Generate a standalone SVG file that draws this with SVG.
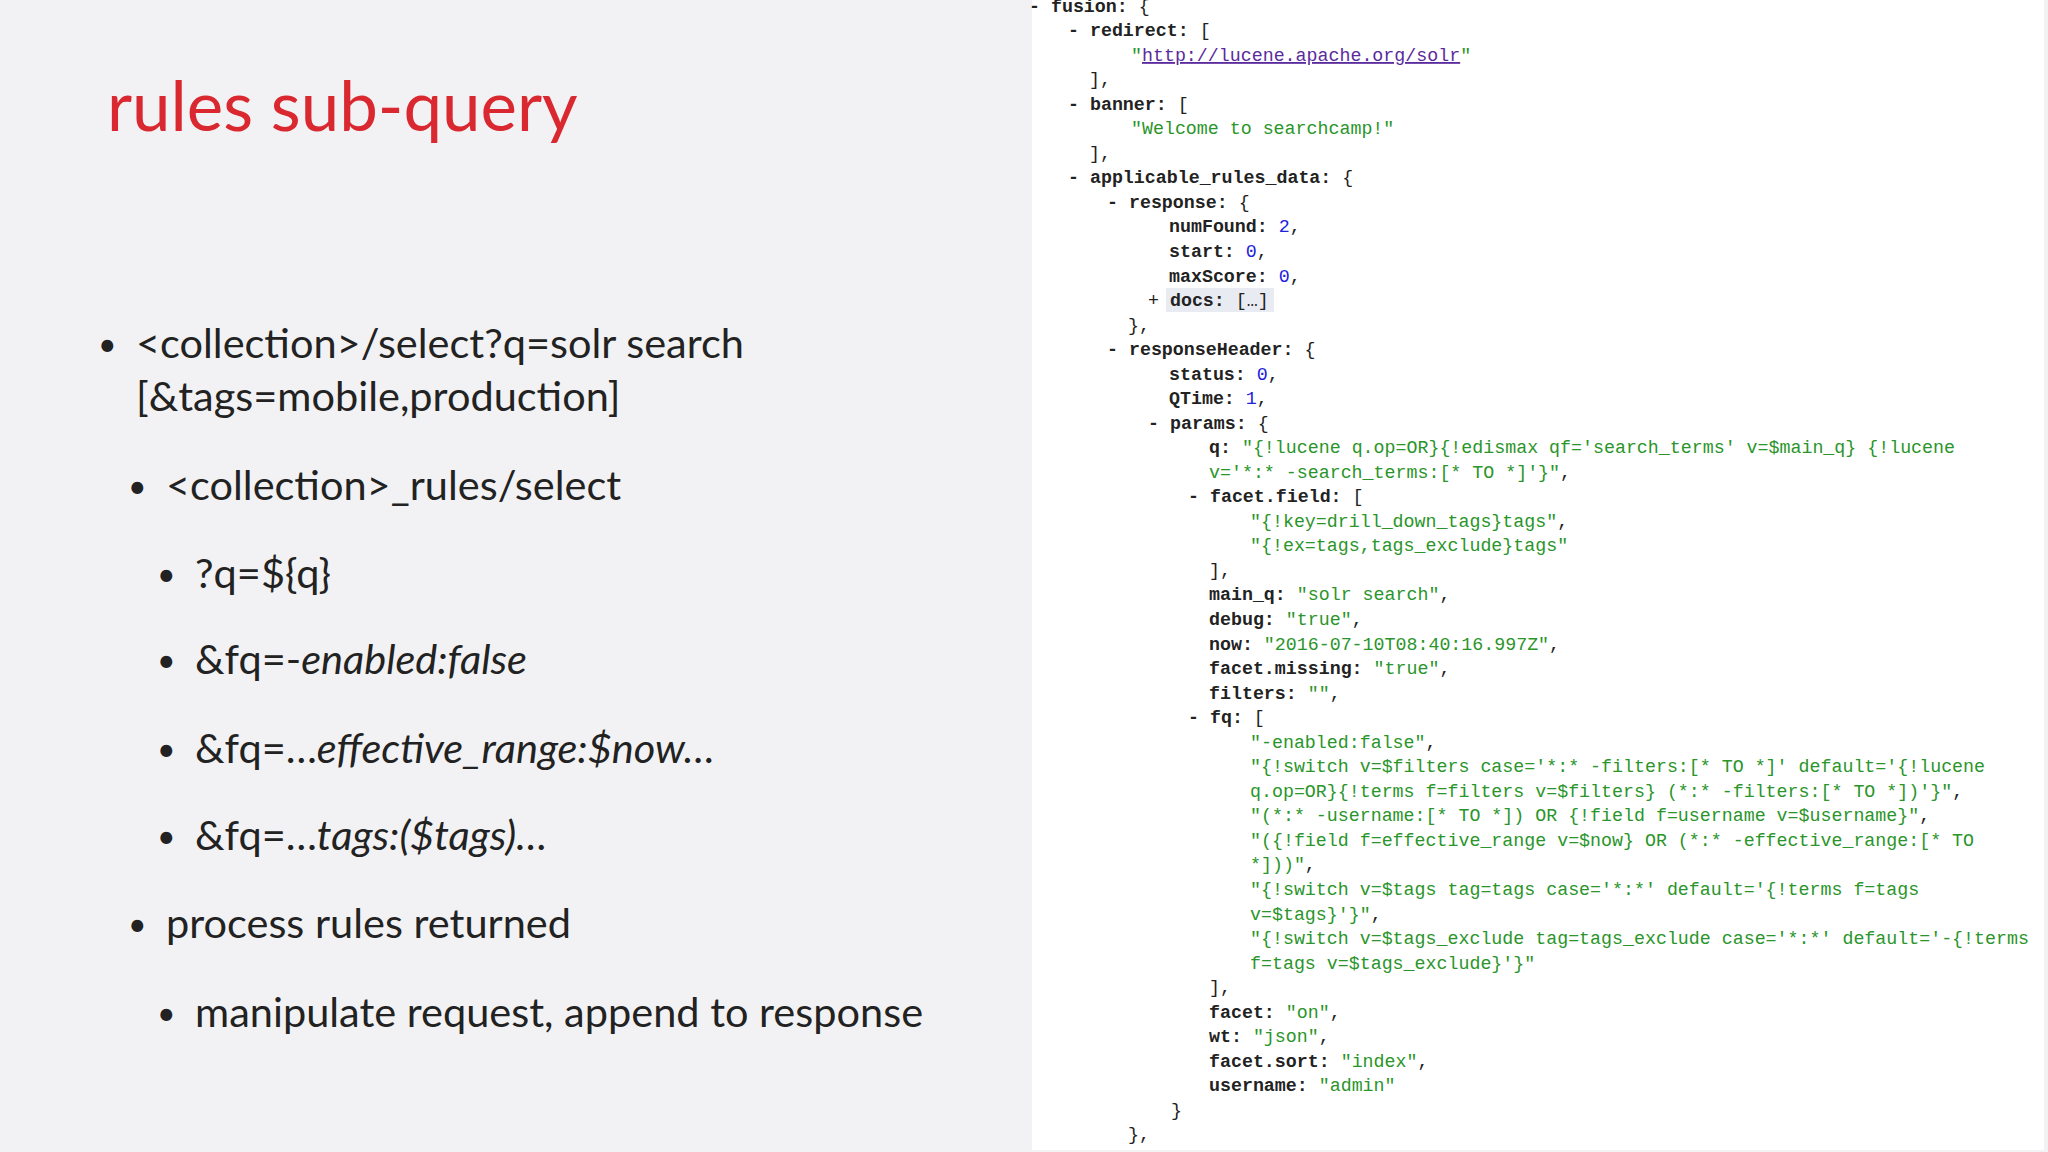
<svg xmlns="http://www.w3.org/2000/svg" width="2048" height="1152" viewBox="0 0 2048 1152">
<style>
.b{font-family:Lato,"Open Sans",sans-serif;font-size:41.5px;fill:#222}
.d{font-family:Lato,"Open Sans",sans-serif;font-size:32px;fill:#222}
.c{font-family:"Liberation Mono",monospace;font-size:18.3px;fill:#222;font-weight:bold}
.s{fill:#2a952a;font-weight:normal}
.n{fill:#2222dd;font-weight:normal}
.l{fill:#5b2a9c;font-weight:normal;text-decoration:underline}
.p{font-weight:normal}
</style>
<rect width="2048" height="1152" fill="#f2f2f4"/>
<g id="title"><text x="107" y="131" font-family="Lato,'Open Sans',sans-serif" font-size="69" fill="#d9282f">rules sub-query</text></g>
<g id="bullets">
<text class="d" x="98" y="356">•</text><text class="b" x="136" y="358">&lt;collection&gt;/select?q=solr search</text>
<text class="b" x="136" y="411">[&amp;tags=mobile,production]</text>
<text class="d" x="128" y="498">•</text><text class="b" x="166" y="500">&lt;collection&gt;_rules/select</text>
<text class="d" x="157" y="586">•</text><text class="b" x="195" y="588">?q=${q}</text>
<text class="d" x="157" y="672">•</text><text class="b" x="195" y="674">&amp;fq=-<tspan font-style="italic">enabled:false</tspan></text>
<text class="d" x="157" y="761">•</text><text class="b" x="195" y="763">&amp;fq=…<tspan font-style="italic">effective_range:$now…</tspan></text>
<text class="d" x="157" y="848">•</text><text class="b" x="195" y="850">&amp;fq=…<tspan font-style="italic">tags:($tags)…</tspan></text>
<text class="d" x="128" y="936">•</text><text class="b" x="166" y="938">process rules returned</text>
<text class="d" x="157" y="1025">•</text><text class="b" x="195" y="1027">manipulate request, append to response</text>
</g>
<g id="json">
<rect x="1032" y="0" width="1012" height="1150" fill="#ffffff"/>
<rect x="1166" y="288" width="108" height="24" fill="#e8ebf2"/>
<text class="c" x="1029" y="12">- fusion: <tspan class="p">{</tspan></text>
<text class="c" x="1068" y="36">- redirect: <tspan class="p">[</tspan></text>
<text class="c" x="1131" y="61"><tspan class="s">"</tspan><tspan class="l">http://lucene.apache.org/solr</tspan><tspan class="s">"</tspan></text>
<text class="c p" x="1089" y="85">],</text>
<text class="c" x="1068" y="110">- banner: <tspan class="p">[</tspan></text>
<text class="c s" x="1131" y="134">"Welcome to searchcamp!"</text>
<text class="c p" x="1089" y="159">],</text>
<text class="c" x="1068" y="183">- applicable_rules_data: <tspan class="p">{</tspan></text>
<text class="c" x="1107" y="208">- response: <tspan class="p">{</tspan></text>
<text class="c" x="1169" y="232">numFound: <tspan class="n">2</tspan><tspan class="p">,</tspan></text>
<text class="c" x="1169" y="257">start: <tspan class="n">0</tspan><tspan class="p">,</tspan></text>
<text class="c" x="1169" y="282">maxScore: <tspan class="n">0</tspan><tspan class="p">,</tspan></text>
<text class="c" x="1148" y="306"><tspan class="p">+ </tspan>docs: <tspan class="p">[…]</tspan></text>
<text class="c p" x="1128" y="331">},</text>
<text class="c" x="1107" y="355">- responseHeader: <tspan class="p">{</tspan></text>
<text class="c" x="1169" y="380">status: <tspan class="n">0</tspan><tspan class="p">,</tspan></text>
<text class="c" x="1169" y="404">QTime: <tspan class="n">1</tspan><tspan class="p">,</tspan></text>
<text class="c" x="1148" y="429">- params: <tspan class="p">{</tspan></text>
<text class="c" x="1209" y="453">q: <tspan class="s">"{!lucene q.op=OR}{!edismax qf='search_terms' v=$main_q} {!lucene</tspan></text>
<text class="c s" x="1209" y="478">v='*:* -search_terms:[* TO *]'}"<tspan fill="#222">,</tspan></text>
<text class="c" x="1188" y="502">- facet.field: <tspan class="p">[</tspan></text>
<text class="c s" x="1250" y="527">"{!key=drill_down_tags}tags"<tspan fill="#222">,</tspan></text>
<text class="c s" x="1250" y="551">"{!ex=tags,tags_exclude}tags"</text>
<text class="c p" x="1209" y="576">],</text>
<text class="c" x="1209" y="600">main_q: <tspan class="s">"solr search"</tspan><tspan class="p">,</tspan></text>
<text class="c" x="1209" y="625">debug: <tspan class="s">"true"</tspan><tspan class="p">,</tspan></text>
<text class="c" x="1209" y="650">now: <tspan class="s">"2016-07-10T08:40:16.997Z"</tspan><tspan class="p">,</tspan></text>
<text class="c" x="1209" y="674">facet.missing: <tspan class="s">"true"</tspan><tspan class="p">,</tspan></text>
<text class="c" x="1209" y="699">filters: <tspan class="s">""</tspan><tspan class="p">,</tspan></text>
<text class="c" x="1188" y="723">- fq: <tspan class="p">[</tspan></text>
<text class="c s" x="1250" y="748">"-enabled:false"<tspan fill="#222">,</tspan></text>
<text class="c s" x="1250" y="772">"{!switch v=$filters case='*:* -filters:[* TO *]' default='{!lucene</text>
<text class="c s" x="1250" y="797">q.op=OR}{!terms f=filters v=$filters} (*:* -filters:[* TO *])'}"<tspan fill="#222">,</tspan></text>
<text class="c s" x="1250" y="821">"(*:* -username:[* TO *]) OR {!field f=username v=$username}"<tspan fill="#222">,</tspan></text>
<text class="c s" x="1250" y="846">"({!field f=effective_range v=$now} OR (*:* -effective_range:[* TO</text>
<text class="c s" x="1250" y="870">*]))"<tspan fill="#222">,</tspan></text>
<text class="c s" x="1250" y="895">"{!switch v=$tags tag=tags case='*:*' default='{!terms f=tags</text>
<text class="c s" x="1250" y="920">v=$tags}'}"<tspan fill="#222">,</tspan></text>
<text class="c s" x="1250" y="944">"{!switch v=$tags_exclude tag=tags_exclude case='*:*' default='-{!terms</text>
<text class="c s" x="1250" y="969">f=tags v=$tags_exclude}'}"</text>
<text class="c p" x="1209" y="993">],</text>
<text class="c" x="1209" y="1018">facet: <tspan class="s">"on"</tspan><tspan class="p">,</tspan></text>
<text class="c" x="1209" y="1042">wt: <tspan class="s">"json"</tspan><tspan class="p">,</tspan></text>
<text class="c" x="1209" y="1067">facet.sort: <tspan class="s">"index"</tspan><tspan class="p">,</tspan></text>
<text class="c" x="1209" y="1091">username: <tspan class="s">"admin"</tspan></text>
<text class="c p" x="1171" y="1116">}</text>
<text class="c p" x="1128" y="1140">},</text>
</g>
</svg>
